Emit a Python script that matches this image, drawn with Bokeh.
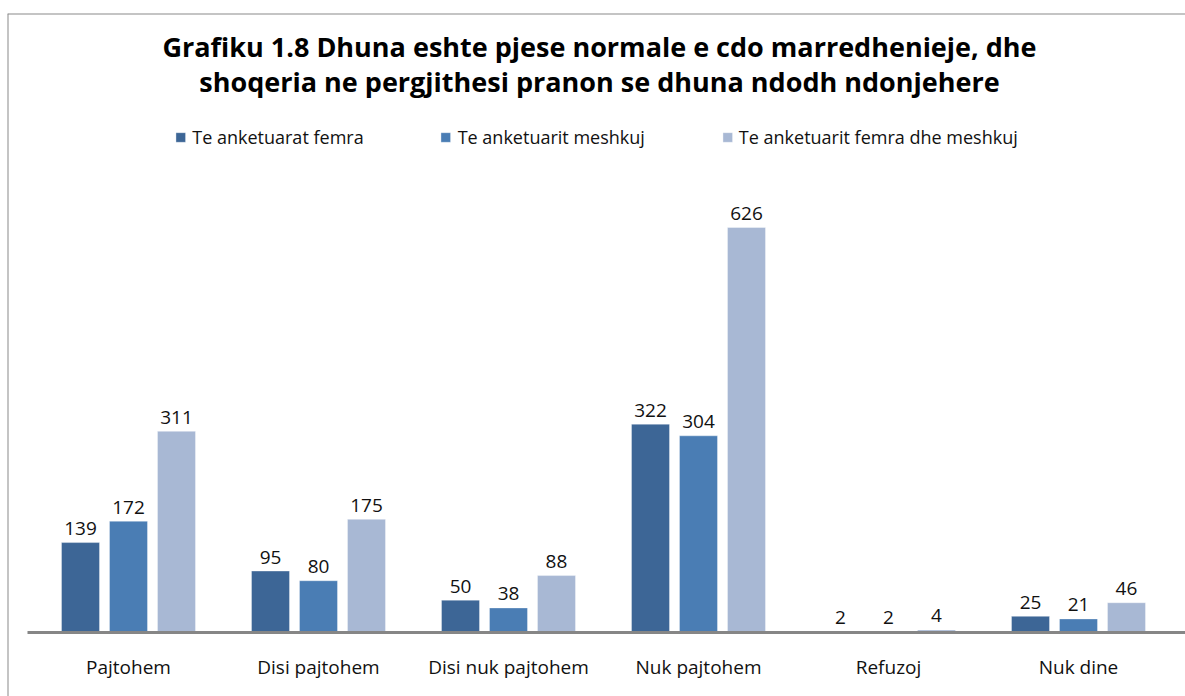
from bokeh.plotting import figure
from bokeh.models import (Range1d, LinearAxis, FixedTicker, Span, Legend, LegendItem,
                          Label, ColumnDataSource)
from bokeh.embed import file_html
from bokeh.resources import INLINE
from bokeh.core.properties import value

# ---------------- data ----------------
categories = ["Pajtohem", "Disi pajtohem", "Disi nuk pajtohem", "Nuk pajtohem", "Refuzoj", "Nuk dine"]
femra = [139, 95, 50, 322, 2, 25]
meshkuj = [172, 80, 38, 304, 2, 21]
femra_meshkuj = [311, 175, 88, 626, 4, 46]
series_names = ["Te anketuarat femra", "Te anketuarit meshkuj", "Te anketuarit femra dhe meshkuj"]
title_lines = ["Grafiku 1.8 Dhuna eshte pjese normale e cdo marredhenieje, dhe",
               "shoqeria ne pergjithesi pranon se dhuna ndodh ndonjehere"]

# ---------------- style ----------------
colors = ["#3D6696", "#4A7DB4", "#A8B8D4"]
FONT = "Open Sans"
W, H = 1185, 696
LEFT, TOP = 7, 13            # frame offsets inside canvas
PPU = 405 / 626              # pixels per unit
BASE = 632                   # baseline position inside canvas (px)
y_top = (BASE - TOP) / PPU
y_bot = -(H - BASE) / PPU
x_start = -0.1368
x_end = x_start + (W - LEFT) / 190.0


def ydata(canvas_px):
    return (BASE - canvas_px) / PPU


p = figure(width=W, height=H, output_backend="svg", toolbar_location=None,
           x_range=Range1d(x_start, x_end), y_range=Range1d(y_bot, y_top),
           x_axis_type=None, y_axis_type=None,
           min_border_left=LEFT, min_border_right=0, min_border_top=TOP, min_border_bottom=0)
p.outline_line_color = None
p.background_fill_color = "white"
p.border_fill_color = "white"

# ---------------- bars ----------------
series = [femra, meshkuj, femra_meshkuj]
offsets = [-0.2526, 0.0, 0.2526]
renderers = []
for vals, off, col in zip(series, offsets, colors):
    src = ColumnDataSource(dict(x=[i + 0.5 + off for i in range(len(categories))],
                                top=vals, lbl=[str(v) for v in vals]))
    r = p.vbar(x="x", top="top", width=0.2, bottom=0, source=src,
               fill_color=col, line_color="white", line_width=0.6, line_alpha=0.6)
    renderers.append(r)
    p.text(x="x", y="top", text="lbl", source=src, text_align="center",
           text_baseline="alphabetic", y_offset=-14, text_font=value(FONT),
           text_font_size="19px", text_color="#111111")

# ---------------- axis (baseline + category labels) ----------------
xaxis = LinearAxis(ticker=FixedTicker(ticks=[i + 0.5 for i in range(len(categories))]),
                   major_label_overrides={i + 0.5: c for i, c in enumerate(categories)},
                   fixed_location=0, bounds=(-0.03, x_end),
                   axis_line_color="#868686", axis_line_width=3,
                   major_tick_line_color=None, minor_tick_line_color=None,
                   major_label_text_font=FONT, major_label_text_font_size="19px",
                   major_label_text_color="#111111", major_label_standoff=15)
p.add_layout(xaxis, "below")

# ---------------- title ----------------
xc = (x_start + x_end) / 2
for line, ypx in zip(title_lines, [46, 81]):
    p.add_layout(Label(x=xc, y=ydata(ypx), text=line, text_align="center",
                       text_baseline="alphabetic", text_font=FONT, text_font_style="bold",
                       text_font_size="27px", text_color="#000000", x_offset=3))

# ---------------- legend ----------------
legend = Legend(items=[LegendItem(label=n, renderers=[r]) for n, r in zip(series_names, renderers)],
                location="top_center", orientation="horizontal",
                label_text_font=FONT, label_text_font_size="18px", label_text_color="#111111",
                glyph_width=12, glyph_height=12, spacing=76, padding=0, margin=112,
                label_standoff=6, border_line_color=None, background_fill_alpha=0)
p.add_layout(legend)

# ---------------- outer border (left & top) ----------------
p.add_layout(Span(location=x_start, dimension="height", line_color="#8a8a8a", line_width=2))
p.add_layout(Span(location=y_top, dimension="width", line_color="#8a8a8a", line_width=2))

open("out.html", "w").write(file_html(p, INLINE))
